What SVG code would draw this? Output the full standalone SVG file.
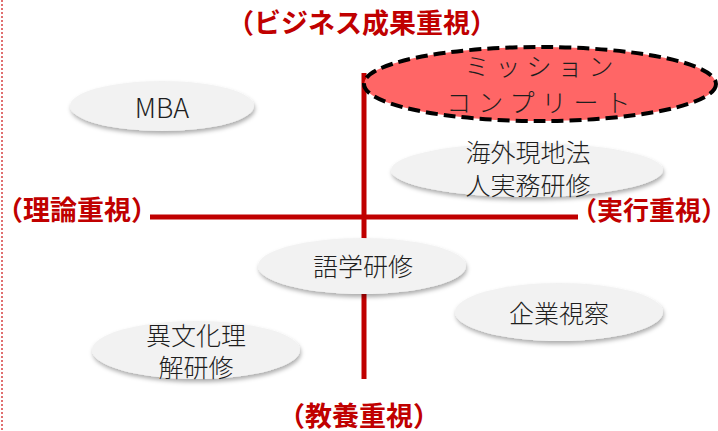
<svg xmlns="http://www.w3.org/2000/svg" width="718" height="431" viewBox="0 0 718 431">
<defs>
<filter id="sh" x="-10%" y="-20%" width="120%" height="150%">
<feDropShadow dx="1" dy="3" stdDeviation="2" flood-color="#000" flood-opacity="0.32"/>
</filter>
<style>
.ax{stroke:#C00000;stroke-width:5;fill:none}
.lbl{font-family:"Noto Sans CJK JP","Noto Sans",sans-serif;font-weight:bold;font-size:27px;fill:#C00000}
.nd{fill:#F2F2F2;filter:url(#sh)}
.tx{font-family:"Noto Sans CJK JP","Noto Sans",sans-serif;font-size:25px;fill:#1E1E1E;text-anchor:middle;dominant-baseline:central;font-weight:300}
</style>
</defs>
<rect width="718" height="431" fill="#fff"/>
<line x1="2" y1="0" x2="2" y2="431" stroke="#E07070" stroke-width="2" stroke-dasharray="2,2"/>
<g id="connectors">
<line class="ax" x1="364" y1="73" x2="364" y2="379"/>
<line class="ax" x1="150" y1="217" x2="578" y2="217"/>
</g>
<g id="labels">
<text class="lbl" x="227" y="33">（ビジネス成果重視）</text>
<text class="lbl" x="-4" y="220">（理論重視）</text>
<text class="lbl" x="571" y="220" style="font-size:26px">（実行重視）</text>
<text class="lbl" x="278" y="426">（教養重視）</text>
</g>
<g id="mba">
<ellipse class="nd" cx="162" cy="106" rx="92" ry="25"/>
<text class="tx" x="162" y="106" style="font-size:27px">MBA</text>
</g>
<g id="mission">
<ellipse cx="540" cy="84" rx="176" ry="37" fill="#FF6666" stroke="#000" stroke-width="4" stroke-dasharray="12,6"/>
<text class="tx" x="542" y="65" letter-spacing="6">ミッション</text>
<text class="tx" x="542" y="101" letter-spacing="7">コンプリート</text>
</g>
<g id="kaigai">
<ellipse class="nd" cx="527" cy="170" rx="136" ry="27"/>
<text class="tx" x="528" y="151">海外現地法</text>
<text class="tx" x="528" y="184">人実務研修</text>
</g>
<g id="gogaku">
<ellipse class="nd" cx="362" cy="266" rx="104" ry="28"/>
<text class="tx" x="363" y="265">語学研修</text>
</g>
<g id="kigyo">
<ellipse class="nd" cx="559" cy="312" rx="104" ry="29"/>
<text class="tx" x="559" y="312">企業視察</text>
</g>
<g id="ibunka">
<ellipse class="nd" cx="196" cy="350" rx="104" ry="29"/>
<text class="tx" x="196" y="334">異文化理</text>
<text class="tx" x="196" y="366">解研修</text>
</g>
</svg>
